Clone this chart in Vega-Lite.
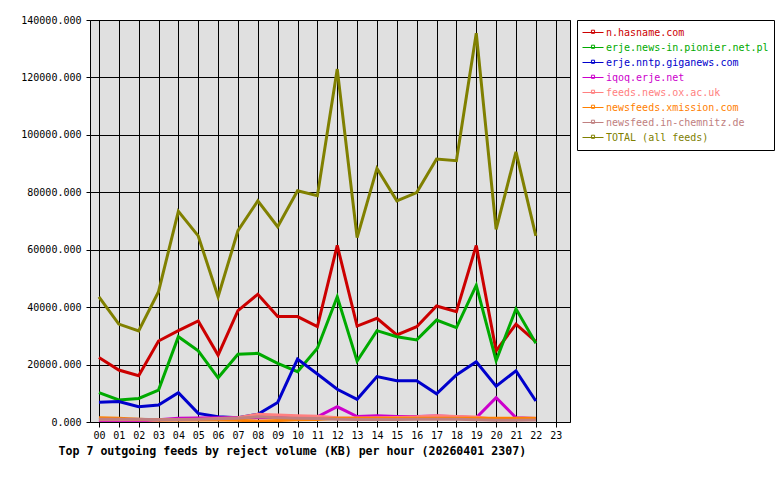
{
  "$schema": "https://vega.github.io/schema/vega-lite/v6.json",
  "autosize": {"type": "none"},
  "padding": {"left": 90, "top": 20, "right": 210, "bottom": 58},
  "width": 480,
  "height": 402,
  "background": "white",
  "config": {
    "view": {"fill": "#e0e0e0", "stroke": "black", "strokeWidth": 1},
    "font": "DejaVu Sans Mono"
  },
  "data": {"values": [
    {"h":0,"f":"n.hasname.com","v":22500},{"h":1,"f":"n.hasname.com","v":18100},{"h":2,"f":"n.hasname.com","v":16100},{"h":3,"f":"n.hasname.com","v":28200},{"h":4,"f":"n.hasname.com","v":31800},{"h":5,"f":"n.hasname.com","v":35200},{"h":6,"f":"n.hasname.com","v":23300},{"h":7,"f":"n.hasname.com","v":38800},{"h":8,"f":"n.hasname.com","v":44500},{"h":9,"f":"n.hasname.com","v":36700},{"h":10,"f":"n.hasname.com","v":36700},{"h":11,"f":"n.hasname.com","v":33200},{"h":12,"f":"n.hasname.com","v":61500},{"h":13,"f":"n.hasname.com","v":33400},{"h":14,"f":"n.hasname.com","v":36100},{"h":15,"f":"n.hasname.com","v":30300},{"h":16,"f":"n.hasname.com","v":33200},{"h":17,"f":"n.hasname.com","v":40400},{"h":18,"f":"n.hasname.com","v":38400},{"h":19,"f":"n.hasname.com","v":61500},{"h":20,"f":"n.hasname.com","v":24800},{"h":21,"f":"n.hasname.com","v":34100},{"h":22,"f":"n.hasname.com","v":28000},
    {"h":0,"f":"erje.news-in.pionier.net.pl","v":10200},{"h":1,"f":"erje.news-in.pionier.net.pl","v":7700},{"h":2,"f":"erje.news-in.pionier.net.pl","v":8200},{"h":3,"f":"erje.news-in.pionier.net.pl","v":11100},{"h":4,"f":"erje.news-in.pionier.net.pl","v":29700},{"h":5,"f":"erje.news-in.pionier.net.pl","v":24800},{"h":6,"f":"erje.news-in.pionier.net.pl","v":15400},{"h":7,"f":"erje.news-in.pionier.net.pl","v":23600},{"h":8,"f":"erje.news-in.pionier.net.pl","v":23900},{"h":9,"f":"erje.news-in.pionier.net.pl","v":20400},{"h":10,"f":"erje.news-in.pionier.net.pl","v":17500},{"h":11,"f":"erje.news-in.pionier.net.pl","v":25700},{"h":12,"f":"erje.news-in.pionier.net.pl","v":43600},{"h":13,"f":"erje.news-in.pionier.net.pl","v":21200},{"h":14,"f":"erje.news-in.pionier.net.pl","v":31800},{"h":15,"f":"erje.news-in.pionier.net.pl","v":29700},{"h":16,"f":"erje.news-in.pionier.net.pl","v":28600},{"h":17,"f":"erje.news-in.pionier.net.pl","v":35500},{"h":18,"f":"erje.news-in.pionier.net.pl","v":32900},{"h":19,"f":"erje.news-in.pionier.net.pl","v":47600},{"h":20,"f":"erje.news-in.pionier.net.pl","v":21400},{"h":21,"f":"erje.news-in.pionier.net.pl","v":39400},{"h":22,"f":"erje.news-in.pionier.net.pl","v":27400},
    {"h":0,"f":"erje.nntp.giganews.com","v":6900},{"h":1,"f":"erje.nntp.giganews.com","v":7100},{"h":2,"f":"erje.nntp.giganews.com","v":5300},{"h":3,"f":"erje.nntp.giganews.com","v":5900},{"h":4,"f":"erje.nntp.giganews.com","v":10200},{"h":5,"f":"erje.nntp.giganews.com","v":3000},{"h":6,"f":"erje.nntp.giganews.com","v":1800},{"h":7,"f":"erje.nntp.giganews.com","v":1500},{"h":8,"f":"erje.nntp.giganews.com","v":2700},{"h":9,"f":"erje.nntp.giganews.com","v":6800},{"h":10,"f":"erje.nntp.giganews.com","v":21900},{"h":11,"f":"erje.nntp.giganews.com","v":16700},{"h":12,"f":"erje.nntp.giganews.com","v":11400},{"h":13,"f":"erje.nntp.giganews.com","v":7900},{"h":14,"f":"erje.nntp.giganews.com","v":15800},{"h":15,"f":"erje.nntp.giganews.com","v":14400},{"h":16,"f":"erje.nntp.giganews.com","v":14400},{"h":17,"f":"erje.nntp.giganews.com","v":9800},{"h":18,"f":"erje.nntp.giganews.com","v":16400},{"h":19,"f":"erje.nntp.giganews.com","v":21000},{"h":20,"f":"erje.nntp.giganews.com","v":12500},{"h":21,"f":"erje.nntp.giganews.com","v":17800},{"h":22,"f":"erje.nntp.giganews.com","v":7300},
    {"h":0,"f":"iqoq.erje.net","v":200},{"h":1,"f":"iqoq.erje.net","v":300},{"h":2,"f":"iqoq.erje.net","v":300},{"h":3,"f":"iqoq.erje.net","v":800},{"h":4,"f":"iqoq.erje.net","v":1300},{"h":5,"f":"iqoq.erje.net","v":1400},{"h":6,"f":"iqoq.erje.net","v":1500},{"h":7,"f":"iqoq.erje.net","v":1500},{"h":8,"f":"iqoq.erje.net","v":1500},{"h":9,"f":"iqoq.erje.net","v":1600},{"h":10,"f":"iqoq.erje.net","v":1700},{"h":11,"f":"iqoq.erje.net","v":1800},{"h":12,"f":"iqoq.erje.net","v":5300},{"h":13,"f":"iqoq.erje.net","v":1900},{"h":14,"f":"iqoq.erje.net","v":2200},{"h":15,"f":"iqoq.erje.net","v":1900},{"h":16,"f":"iqoq.erje.net","v":1900},{"h":17,"f":"iqoq.erje.net","v":2100},{"h":18,"f":"iqoq.erje.net","v":1800},{"h":19,"f":"iqoq.erje.net","v":1500},{"h":20,"f":"iqoq.erje.net","v":8500},{"h":21,"f":"iqoq.erje.net","v":1500},{"h":22,"f":"iqoq.erje.net","v":1200},
    {"h":0,"f":"feeds.news.ox.ac.uk","v":800},{"h":1,"f":"feeds.news.ox.ac.uk","v":800},{"h":2,"f":"feeds.news.ox.ac.uk","v":800},{"h":3,"f":"feeds.news.ox.ac.uk","v":700},{"h":4,"f":"feeds.news.ox.ac.uk","v":800},{"h":5,"f":"feeds.news.ox.ac.uk","v":900},{"h":6,"f":"feeds.news.ox.ac.uk","v":1200},{"h":7,"f":"feeds.news.ox.ac.uk","v":1500},{"h":8,"f":"feeds.news.ox.ac.uk","v":2700},{"h":9,"f":"feeds.news.ox.ac.uk","v":2400},{"h":10,"f":"feeds.news.ox.ac.uk","v":2200},{"h":11,"f":"feeds.news.ox.ac.uk","v":2000},{"h":12,"f":"feeds.news.ox.ac.uk","v":1500},{"h":13,"f":"feeds.news.ox.ac.uk","v":1400},{"h":14,"f":"feeds.news.ox.ac.uk","v":1500},{"h":15,"f":"feeds.news.ox.ac.uk","v":1600},{"h":16,"f":"feeds.news.ox.ac.uk","v":1800},{"h":17,"f":"feeds.news.ox.ac.uk","v":2200},{"h":18,"f":"feeds.news.ox.ac.uk","v":1900},{"h":19,"f":"feeds.news.ox.ac.uk","v":1700},{"h":20,"f":"feeds.news.ox.ac.uk","v":900},{"h":21,"f":"feeds.news.ox.ac.uk","v":900},{"h":22,"f":"feeds.news.ox.ac.uk","v":900},
    {"h":0,"f":"newsfeeds.xmission.com","v":1500},{"h":1,"f":"newsfeeds.xmission.com","v":1300},{"h":2,"f":"newsfeeds.xmission.com","v":1000},{"h":3,"f":"newsfeeds.xmission.com","v":700},{"h":4,"f":"newsfeeds.xmission.com","v":700},{"h":5,"f":"newsfeeds.xmission.com","v":700},{"h":6,"f":"newsfeeds.xmission.com","v":700},{"h":7,"f":"newsfeeds.xmission.com","v":600},{"h":8,"f":"newsfeeds.xmission.com","v":300},{"h":9,"f":"newsfeeds.xmission.com","v":500},{"h":10,"f":"newsfeeds.xmission.com","v":800},{"h":11,"f":"newsfeeds.xmission.com","v":900},{"h":12,"f":"newsfeeds.xmission.com","v":1300},{"h":13,"f":"newsfeeds.xmission.com","v":1300},{"h":14,"f":"newsfeeds.xmission.com","v":1300},{"h":15,"f":"newsfeeds.xmission.com","v":1300},{"h":16,"f":"newsfeeds.xmission.com","v":1300},{"h":17,"f":"newsfeeds.xmission.com","v":1300},{"h":18,"f":"newsfeeds.xmission.com","v":1300},{"h":19,"f":"newsfeeds.xmission.com","v":1300},{"h":20,"f":"newsfeeds.xmission.com","v":1300},{"h":21,"f":"newsfeeds.xmission.com","v":1300},{"h":22,"f":"newsfeeds.xmission.com","v":1300},
    {"h":0,"f":"newsfeed.in-chemnitz.de","v":1000},{"h":1,"f":"newsfeed.in-chemnitz.de","v":1000},{"h":2,"f":"newsfeed.in-chemnitz.de","v":1000},{"h":3,"f":"newsfeed.in-chemnitz.de","v":800},{"h":4,"f":"newsfeed.in-chemnitz.de","v":900},{"h":5,"f":"newsfeed.in-chemnitz.de","v":1000},{"h":6,"f":"newsfeed.in-chemnitz.de","v":1100},{"h":7,"f":"newsfeed.in-chemnitz.de","v":1300},{"h":8,"f":"newsfeed.in-chemnitz.de","v":1800},{"h":9,"f":"newsfeed.in-chemnitz.de","v":1500},{"h":10,"f":"newsfeed.in-chemnitz.de","v":1300},{"h":11,"f":"newsfeed.in-chemnitz.de","v":1200},{"h":12,"f":"newsfeed.in-chemnitz.de","v":1000},{"h":13,"f":"newsfeed.in-chemnitz.de","v":900},{"h":14,"f":"newsfeed.in-chemnitz.de","v":900},{"h":15,"f":"newsfeed.in-chemnitz.de","v":900},{"h":16,"f":"newsfeed.in-chemnitz.de","v":1000},{"h":17,"f":"newsfeed.in-chemnitz.de","v":1000},{"h":18,"f":"newsfeed.in-chemnitz.de","v":1000},{"h":19,"f":"newsfeed.in-chemnitz.de","v":800},{"h":20,"f":"newsfeed.in-chemnitz.de","v":600},{"h":21,"f":"newsfeed.in-chemnitz.de","v":600},{"h":22,"f":"newsfeed.in-chemnitz.de","v":700},
    {"h":0,"f":"TOTAL (all feeds)","v":43600},{"h":1,"f":"TOTAL (all feeds)","v":34100},{"h":2,"f":"TOTAL (all feeds)","v":31700},{"h":3,"f":"TOTAL (all feeds)","v":45400},{"h":4,"f":"TOTAL (all feeds)","v":73400},{"h":5,"f":"TOTAL (all feeds)","v":64800},{"h":6,"f":"TOTAL (all feeds)","v":43600},{"h":7,"f":"TOTAL (all feeds)","v":66600},{"h":8,"f":"TOTAL (all feeds)","v":77000},{"h":9,"f":"TOTAL (all feeds)","v":68000},{"h":10,"f":"TOTAL (all feeds)","v":80500},{"h":11,"f":"TOTAL (all feeds)","v":78800},{"h":12,"f":"TOTAL (all feeds)","v":122900},{"h":13,"f":"TOTAL (all feeds)","v":64200},{"h":14,"f":"TOTAL (all feeds)","v":88300},{"h":15,"f":"TOTAL (all feeds)","v":77000},{"h":16,"f":"TOTAL (all feeds)","v":79900},{"h":17,"f":"TOTAL (all feeds)","v":91600},{"h":18,"f":"TOTAL (all feeds)","v":91000},{"h":19,"f":"TOTAL (all feeds)","v":135400},{"h":20,"f":"TOTAL (all feeds)","v":67100},{"h":21,"f":"TOTAL (all feeds)","v":94100},{"h":22,"f":"TOTAL (all feeds)","v":64800}
  ]},
  "mark": {"type": "line", "strokeWidth": 3, "clip": true},
  "encoding": {
    "x": {
      "field": "h", "type": "quantitative",
      "scale": {"domain": [-0.45, 23.72], "nice": false, "zero": false},
      "axis": {
        "values": [0,1,2,3,4,5,6,7,8,9,10,11,12,13,14,15,16,17,18,19,20,21,22,23],
        "format": "02d",
        "grid": true, "gridColor": "black", "gridOpacity": 1, "gridWidth": 1,
        "domain": false,
        "tickSize": 5, "tickColor": "black", "tickWidth": 1,
        "labelPadding": 3, "labelFont": "DejaVu Sans Mono", "labelFontSize": 10, "labelColor": "black",
        "labelFlush": false, "labelOverlap": false,
        "title": "Top 7 outgoing feeds by reject volume (KB) per hour (20260401 2307)",
        "titleFont": "DejaVu Sans Mono", "titleFontSize": 11.6, "titleFontWeight": "bold", "titleColor": "black",
        "titleX": -32, "titleY": 29, "titleAlign": "left", "titleBaseline": "middle", "titleAnchor": "start"
      }
    },
    "y": {
      "field": "v", "type": "quantitative",
      "scale": {"domain": [0, 140000], "nice": false},
      "axis": {
        "values": [0,20000,40000,60000,80000,100000,120000,140000],
        "format": ".3f",
        "grid": true, "gridColor": "black", "gridOpacity": 1, "gridWidth": 1,
        "domain": false,
        "tickSize": 4, "tickColor": "black", "tickWidth": 1,
        "labelPadding": 5, "labelFont": "DejaVu Sans Mono", "labelFontSize": 10, "labelColor": "black",
        "labelFlush": false, "labelOverlap": false,
        "title": null
      }
    },
    "color": {
      "field": "f", "type": "nominal",
      "scale": {
        "domain": ["n.hasname.com","erje.news-in.pionier.net.pl","erje.nntp.giganews.com","iqoq.erje.net","feeds.news.ox.ac.uk","newsfeeds.xmission.com","newsfeed.in-chemnitz.de","TOTAL (all feeds)"],
        "range": ["#cc0000","#00aa00","#0000cc","#cc00cc","#ff8080","#ff8000","#c08080","#808000"]
      },
      "legend": {
        "title": null,
        "orient": "none",
        "legendX": 487,
        "legendY": 0,
        "padding": 5,
        "fillColor": "white",
        "strokeColor": "black",
        "symbolType": "M-1,0H1M-0.15,-0.22H0.15V0.08H-0.15Z",
        "symbolSize": 441,
        "symbolStrokeWidth": 1,
        "symbolOffset": 0,
        "labelOffset": 2,
        "clipHeight": 15,
        "rowPadding": 0,
        "labelFont": "DejaVu Sans Mono",
        "labelFontSize": 10,
        "labelLimit": 300,
        "encode": {
          "labels": {"update": {"fill": {"scale": "color", "field": "value"}}},
          "symbols": {"update": {"fill": {"value": "white"}, "strokeWidth": {"value": 1}}}
        }
      }
    }
  }
}
